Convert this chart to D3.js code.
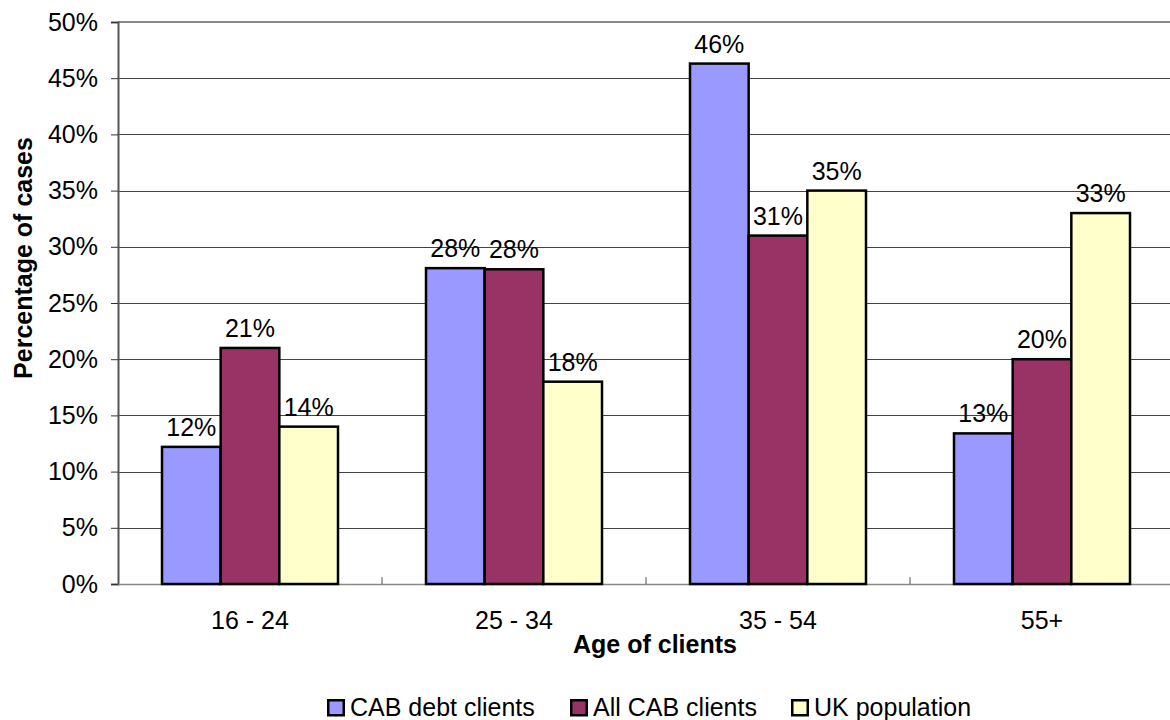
<!DOCTYPE html>
<html>
<head>
<meta charset="utf-8">
<script src="https://cdn.jsdelivr.net/npm/d3@7"></script>
<style>
  body { margin: 0; background: #fff; }
  svg { display: block; font-family: "Liberation Sans", Arial, sans-serif; }
</style>
</head>
<body>
<svg id="chart" width="1170" height="720"></svg>
<script>
// Age groups of clients
const categories = ["16 - 24", "25 - 34", "35 - 54", "55+"];
const seriesNames = ["CAB debt clients", "All CAB clients", "UK population"];
// Percentage of cases per age group
const cabDebtClients = [12.2, 28.1, 46.3, 13.4];
const allCabClients = [21.0, 28.0, 31.0, 20.0];
const ukPopulation = [14.0, 18.0, 35.0, 33.0];
const yTicks = [0, 5, 10, 15, 20, 25, 30, 35, 40, 45, 50];
const colors = ["#9999ff", "#993366", "#ffffcc"];

const seriesValues = [cabDebtClients, allCabClients, ukPopulation];
const FONT = "Liberation Sans, Arial, sans-serif";
const FS = 25;

const svg = d3.select("#chart");
const margin = { left: 118, top: 22, right: -4, bottom: 136 };
const width = 1170 - margin.left - margin.right;
const height = 720 - margin.top - margin.bottom;
const g = svg.append("g").attr("transform", `translate(${margin.left},${margin.top})`);

const x0 = d3.scaleBand().domain(categories).range([0, width]).paddingInner(0).paddingOuter(0);
const x1 = d3.scaleBand().domain(seriesNames).range([x0.bandwidth() / 6, x0.bandwidth() * 5 / 6]);
const y = d3.scaleLinear().domain([0, 50]).range([height, 0]);

// horizontal gridlines
g.append("g").selectAll("line").data(yTicks.filter(t => t > 0 && t < 50)).join("line")
  .attr("x1", 0).attr("x2", width)
  .attr("y1", d => Math.round(y(d)) + 0.5).attr("y2", d => Math.round(y(d)) + 0.5)
  .attr("stroke", "#444").attr("stroke-width", 1);
// top border of the plot
g.append("line").attr("x1", 0).attr("x2", width).attr("y1", y(50)).attr("y2", y(50))
  .attr("stroke", "#888").attr("stroke-width", 2);

// y axis
const yAxis = g.append("g")
  .call(d3.axisLeft(y).tickValues(yTicks).tickFormat(d => d + "%").tickSize(7).tickPadding(13));
yAxis.select(".domain").attr("stroke", "#555").attr("stroke-width", 2);
yAxis.selectAll(".tick line").attr("stroke", "#333");
yAxis.selectAll("text").attr("font-size", FS).attr("fill", "#000").attr("font-family", FONT);

// x axis
const xAxis = g.append("g").attr("transform", `translate(0,${height})`)
  .call(d3.axisBottom(x0).tickSize(0).tickPadding(27));
xAxis.select(".domain").attr("stroke", "#888").attr("stroke-width", 1.5);
xAxis.selectAll("text").attr("font-size", FS).attr("fill", "#000").attr("font-family", FONT);
// category separator ticks
g.append("g").selectAll("line").data(categories.slice(1)).join("line")
  .attr("x1", d => x0(d)).attr("x2", d => x0(d))
  .attr("y1", height - 7).attr("y2", height)
  .attr("stroke", "#555").attr("stroke-width", 1);

// bars
const groups = g.append("g").selectAll("g").data(categories).join("g")
  .attr("transform", d => `translate(${x0(d)},0)`);
const cells = (d, i) => seriesNames.map((s, j) => ({ s, j, v: seriesValues[j][i] }));
groups.selectAll("rect").data(cells).join("rect")
  .attr("x", d => x1(d.s)).attr("width", x1.bandwidth())
  .attr("y", d => y(d.v)).attr("height", d => height - y(d.v))
  .attr("fill", d => colors[d.j]).attr("stroke", "#000").attr("stroke-width", 2.5);

// value labels
groups.selectAll("text.val").data(cells).join("text").attr("class", "val")
  .attr("x", d => x1(d.s) + x1.bandwidth() / 2)
  .attr("y", d => y(d.v) - 11)
  .attr("text-anchor", "middle").attr("font-size", FS).attr("fill", "#000")
  .text(d => Math.round(d.v) + "%");

// axis titles
svg.append("text").attr("transform", "translate(32,258) rotate(-90)")
  .attr("text-anchor", "middle").attr("font-size", 25).attr("font-weight", "bold")
  .text("Percentage of cases");
svg.append("text").attr("x", 655).attr("y", 653)
  .attr("text-anchor", "middle").attr("font-size", 25).attr("font-weight", "bold")
  .text("Age of clients");

// legend
const legendX = [327, 570, 791];
const legend = svg.append("g").selectAll("g").data(seriesNames).join("g")
  .attr("transform", (d, i) => `translate(${legendX[i]},699)`);
legend.append("rect").attr("x", 1.25).attr("y", 1.25).attr("width", 15.5).attr("height", 15)
  .attr("fill", (d, i) => colors[i]).attr("stroke", "#000").attr("stroke-width", 2.5);
legend.append("text").attr("x", 23).attr("y", 17).attr("font-size", FS).attr("fill", "#000")
  .text(d => d);
</script>
</body>
</html>
